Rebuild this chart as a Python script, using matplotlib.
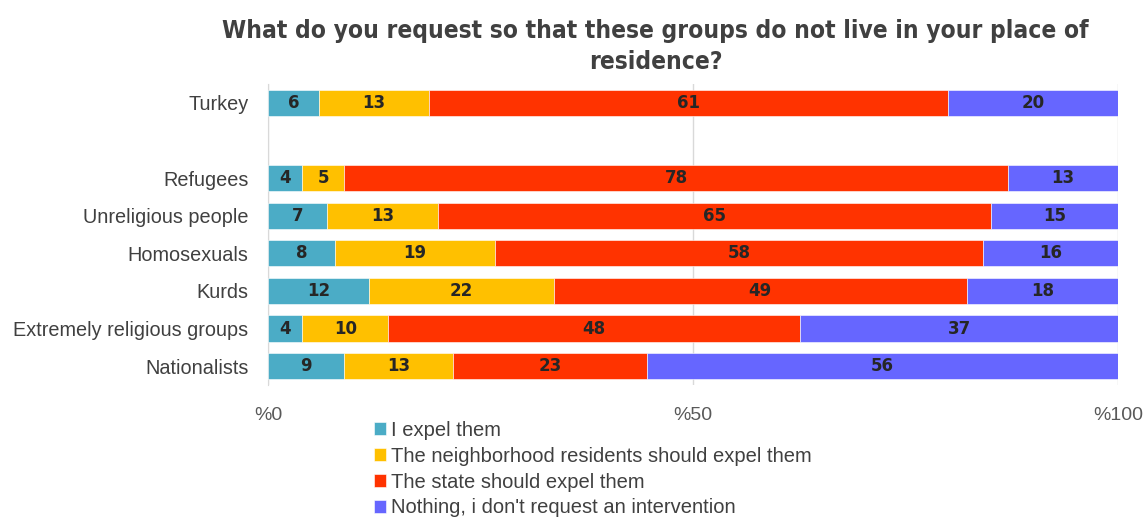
import matplotlib.pyplot as plt
import numpy as np

groups = ["Nationalists", "Extremely religious groups", "Kurds", "Homosexuals",
          "Unreligious people", "Refugees", "", "Turkey"]
series_names = ["I expel them", "The neighborhood residents should expel them",
                "The state should expel them", "Nothing, i don't request an intervention"]
expel_self = [9, 4, 12, 8, 7, 4, 0, 6]
expel_neighbors = [13, 10, 22, 19, 13, 5, 0, 13]
expel_state = [23, 48, 49, 58, 65, 78, 0, 61]
nothing = [56, 37, 18, 16, 15, 13, 0, 20]
x_ticks = [0, 50, 100]
x_ticklabels = ["%0", "%50", "%100"]

colors = ["#4BACC6", "#FFC000", "#FF3300", "#6666FF"]

data = np.array([expel_self, expel_neighbors, expel_state, nothing], dtype=float)
totals = data.sum(axis=0)
totals[totals == 0] = 1
shares = data / totals * 100

fig = plt.figure(figsize=(11.48, 5.17), dpi=100)
ax = fig.add_axes([0.2334, 0.2553, 0.7405, 0.5822])

y = np.arange(len(groups))
left = np.zeros(len(groups))
for i in range(4):
    bars = ax.barh(y, shares[i], left=left, height=0.7, color=colors[i],
                   edgecolor="white", linewidth=0.4, label=series_names[i], zorder=3)
    for j, b in enumerate(bars):
        if data[i][j] == 0:
            b.set_linewidth(0)
            continue
        ax.text(left[j] + shares[i][j] / 2, y[j], "%d" % data[i][j],
                ha="center", va="center", fontsize=12, fontweight="bold",
                color="#262626", zorder=4)
    left += shares[i]

ax.set_xlim(0, 100)
ax.set_ylim(-0.5, 7.5)
ax.set_yticks(y)
ax.set_yticklabels(groups, fontsize=14.3, color="#404040", family="Liberation Sans")
ax.set_xticks(x_ticks)
ax.set_xticklabels(x_ticklabels, fontsize=14, color="#595959", family="Liberation Sans")
ax.tick_params(length=0)
ax.tick_params(axis="x", pad=16)
ax.tick_params(axis="y", pad=14)
ax.grid(axis="x", color="#D9D9D9", linewidth=1, zorder=0)
for s in ["top", "right", "bottom"]:
    ax.spines[s].set_visible(False)
ax.spines["left"].set_color("#D9D9D9")

fig.text(0.571, 0.963, "What do you request so that these groups do not live in your place of\nresidence?",
         ha="center", va="top", fontsize=17.6, fontweight="bold", color="#404040",
         family="DejaVu Sans", fontstretch="condensed", linespacing=1.35)

fig.legend(loc="upper left", bbox_to_anchor=(0.326, 0.186), ncol=1, frameon=False,
           prop={"family": "Liberation Sans", "size": 14.5}, labelcolor="#404040",
           handlelength=0.6, handleheight=0.6, handletextpad=0.25, labelspacing=0.34,
           borderpad=0, borderaxespad=0)

fig.savefig("out.png", dpi=100)
